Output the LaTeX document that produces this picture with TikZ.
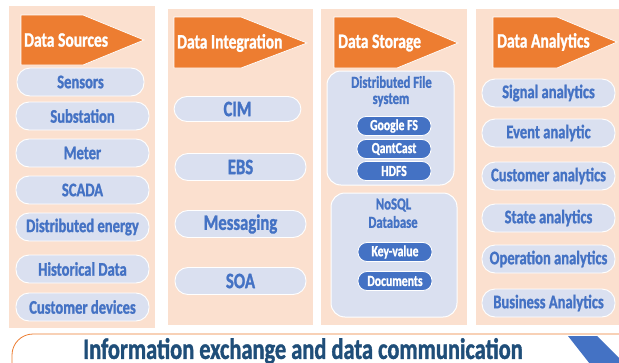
\documentclass[tikz,border=0pt]{standalone}
\usepackage{fontspec}
\newfontfamily\cfont[FakeStretch=0.76, FakeBold=1.2, UprightFont={* Bold}, BoldFont={* Bold},
  BoldFeatures={FakeStretch=0.76, FakeBold=1.2}]{Carlito}
\definecolor{panel}{HTML}{FBE0CF}
\definecolor{pill}{HTML}{DAE0F0}
\definecolor{ink}{HTML}{4472C4}
\definecolor{head}{HTML}{ED7D31}
\definecolor{navy}{HTML}{1F4E79}
\tikzset{
  panelbox/.style={fill=panel, draw=none},
  headshape/.style={fill=head, draw=white, line width=0.7pt},
  headtext/.style={text=white, anchor=west, inner sep=0pt,
    font=\cfont\fontsize{20.5}{22}\selectfont},
  pillbox/.style={draw=white, line width=0.9pt, fill=pill, text=ink,
    rounded corners=13pt, minimum width=133pt, minimum height=28pt, inner sep=0pt,
    font=\cfont\fontsize{19.2}{21}\selectfont},
  bigpill/.style={pillbox, minimum width=131pt, minimum height=27pt,
    font=\cfont\fontsize{22}{24}\selectfont},
  groupbox/.style={fill=pill, draw=white, line width=1pt, rounded corners=14pt},
  grouptext/.style={text=ink, inner sep=0pt,
    font=\cfont\fontsize{16.7}{18}\selectfont},
  techpill/.style={fill=ink, draw=white, line width=0.8pt, text=white,
    rounded corners=9pt, minimum width=74pt, minimum height=19pt, inner sep=0pt,
    font=\cfont\fontsize{15.4}{17}\selectfont},
}
\begin{document}
\begin{tikzpicture}[x=1pt,y=-1pt]
\useasboundingbox (0,0) rectangle (619,362);
\clip (0,0) rectangle (619,362);
\fill[white] (0,0) rectangle (619,362);

% four column panels
\path[panelbox] (9,6) rectangle (155,328);
\path[panelbox] (168,9) rectangle (313,325);
\path[panelbox] (321,9) rectangle (467,325);
\path[panelbox] (476,9) rectangle (619,325);

% arrow-shaped column headers
\draw[headshape] (21,15) -- (83,15) -- (144,40) -- (83,65) -- (21,65) -- cycle;
\node[headtext] (h1) at (24,40) {Data Sources};
\draw[headshape] (174,17) -- (241,17) -- (307,43) -- (241,68) -- (174,68) -- cycle;
\node[headtext] (h2) at (177,43) {Data Integration};
\draw[headshape] (334,17) -- (397,17) -- (458,43) -- (397,68) -- (334,68) -- cycle;
\node[headtext] (h3) at (338,43) {Data Storage};
\draw[headshape] (493,17) -- (557,17) -- (617,42) -- (557,68) -- (493,68) -- cycle;
\node[headtext] (h4) at (497,42) {Data Analytics};

% data sources
\node[pillbox, minimum width=127pt] (s1) at (80.5,82) {Sensors};
\node[pillbox] (s2) at (82.5,116) {Substation};
\node[pillbox] (s3) at (82.5,153) {Meter};
\node[pillbox] (s4) at (82.5,190) {SCADA};
\node[pillbox] (s5) at (82.5,227) {Distributed energy};
\node[pillbox] (s6) at (82.5,269) {Historical Data};
\node[pillbox] (s7) at (82.5,307) {Customer devices};

% data integration
\node[bigpill, minimum width=127pt, minimum height=25pt] (i1) at (237.5,109) {CIM};
\node[bigpill] (i2) at (240.5,167) {EBS};
\node[bigpill] (i3) at (240.5,224) {Messaging};
\node[bigpill] (i4) at (240.5,281) {SOA};

% data storage
\draw[groupbox] (327,71) rectangle (454,185);
\node[grouptext] (g1a) at (391.5,82) {Distributed File};
\node[grouptext] (g1b) at (391,100) {system};
\node[techpill] (t1) at (394,126) {Google FS};
\node[techpill] (t2) at (394,149) {QantCast};
\node[techpill] (t3) at (394,171) {HDFS};
\draw[groupbox] (331,193) rectangle (457,317);
\node[grouptext] (g2a) at (393.5,205) {NoSQL};
\node[grouptext] (g2b) at (393,222) {Database};
\node[techpill] (t4) at (395,252) {Key-value};
\node[techpill] (t5) at (395,281) {Documents};

% data analytics
\node[pillbox] (a1) at (548.5,93) {Signal analytics};
\node[pillbox] (a2) at (548.5,133) {Event analytic};
\node[pillbox] (a3) at (548.5,176) {Customer analytics};
\node[pillbox] (a4) at (548.5,218) {State analytics};
\node[pillbox] (a5) at (548.5,259) {Operation analytics};
\node[pillbox] (a6) at (548.5,303) {Business Analytics};

% communication banner
\draw[draw=head, line width=0.8pt, fill=white, rounded corners=21pt]
  (12,334) rectangle (640,400);
\fill[ink] (568,336) -- (597,336) -- (625,364) -- (597,392) -- (568,392) -- (590,364) -- cycle;
\node[text=navy, inner sep=0pt, font=\cfont\fontsize{29.5}{31}\selectfont]
  (bus) at (303,351) {Information exchange and data communication};
\end{tikzpicture}
\end{document}
